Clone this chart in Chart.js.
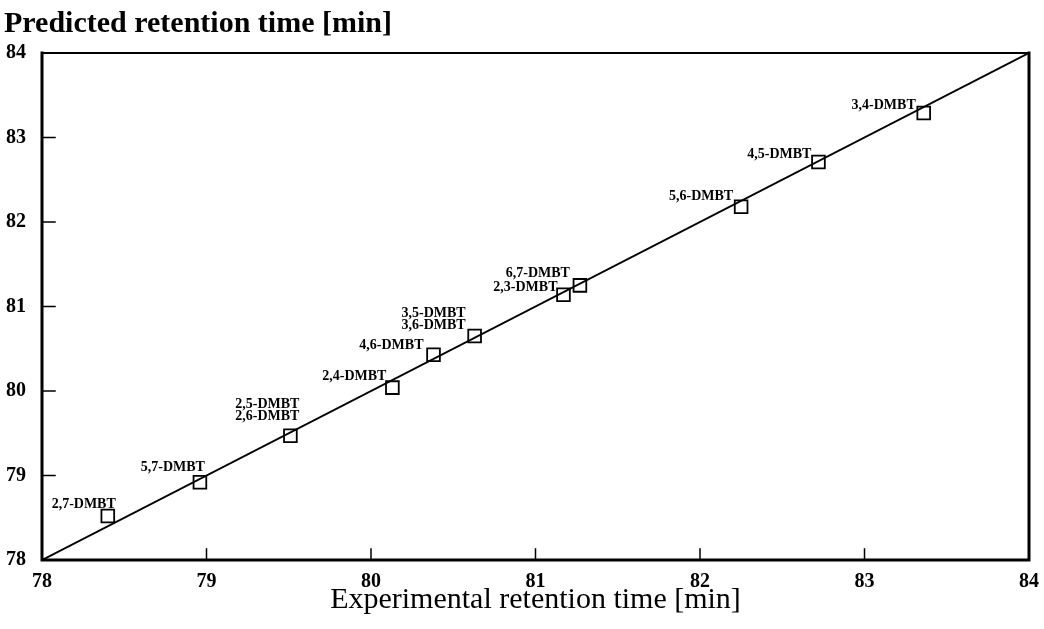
<!DOCTYPE html>
<html>
<head>
<meta charset="utf-8">
<script src="https://cdn.jsdelivr.net/npm/chart.js@4"></script>
<style>
  html, body { margin: 0; padding: 0; background: #fff; }
</style>
</head>
<body>
<canvas id="retentionChart" width="1044" height="629"></canvas>
<script>
// DMBT isomers: experimental vs predicted retention time [min]
const isomerLabels = [
    ['2,7-DMBT'], ['5,7-DMBT'], ['2,5-DMBT', '2,6-DMBT'], ['2,4-DMBT'],
    ['4,6-DMBT'], ['3,5-DMBT', '3,6-DMBT'], ['2,3-DMBT'], ['6,7-DMBT'],
    ['5,6-DMBT'], ['4,5-DMBT'], ['3,4-DMBT']
];
const experimental = [78.40, 78.96, 79.51, 80.13, 80.38, 80.63, 81.17, 81.27, 82.25, 82.72, 83.36];
const predicted    = [78.52, 78.92, 79.47, 80.04, 80.43, 80.65, 81.14, 81.25, 82.18, 82.71, 83.29];

// y = x reference line
const parityLine = [78, 84];
const axisTicks = [78, 79, 80, 81, 82, 83, 84];

// label nudges in px: right edge dx, last line dy (relative to square)
const labelNudge = [
    [8, -12], [5, -15], [9, -19], [-6, -11], [-10, -9], [-9, -11],
    [-6, -7], [-10, -12], [-8, -10], [-7, -8], [-8, -8]
];

const serif = '"Liberation Serif", "Times New Roman", serif';

// draws the frame and the inward tick marks
const framePlugin = {
    id: 'frame',
    afterDraw(chart) {
        const { ctx, chartArea: a, scales: { x, y } } = chart;
        ctx.save();
        ctx.strokeStyle = '#000';
        ctx.lineCap = 'square';
        ctx.lineWidth = 3;
        ctx.beginPath();
        ctx.moveTo(a.left, a.top);
        ctx.lineTo(a.left, a.bottom);
        ctx.lineTo(a.right, a.bottom);
        ctx.lineTo(a.right, a.top);
        ctx.stroke();
        ctx.lineWidth = 2;
        ctx.beginPath();
        ctx.moveTo(a.left, a.top);
        ctx.lineTo(a.right, a.top);
        ctx.stroke();

        ctx.lineWidth = 1.5;
        ctx.beginPath();
        axisTicks.slice(1, -1).forEach(v => {
            const px = x.getPixelForValue(v);
            ctx.moveTo(px, a.bottom);
            ctx.lineTo(px, a.bottom - 11);
            const py = y.getPixelForValue(v);
            ctx.moveTo(a.left, py);
            ctx.lineTo(a.left + 13, py);
        });
        ctx.stroke();
        ctx.restore();
    }
};

const pointLabelPlugin = {
    id: 'pointLabels',
    afterDatasetsDraw(chart) {
        const { ctx, scales: { x, y } } = chart;
        ctx.save();
        ctx.font = 'bold 14px ' + serif;
        ctx.fillStyle = '#000';
        ctx.textAlign = 'right';
        ctx.textBaseline = 'middle';
        isomerLabels.forEach((lines, i) => {
            const px = x.getPixelForValue(experimental[i]);
            const py = y.getPixelForValue(predicted[i]);
            const [dx, dy] = labelNudge[i];
            lines.forEach((t, j) => {
                ctx.fillText(t, px + dx, py + dy - (lines.length - 1 - j) * 12);
            });
        });
        ctx.restore();
    }
};

const ctx = document.getElementById('retentionChart').getContext('2d');
new Chart(ctx, {
    type: 'scatter',
    data: {
        datasets: [{
            label: 'Isomers',
            data: experimental.map((v, i) => ({ x: v, y: predicted[i] })),
            pointStyle: 'rect',
            pointRadius: 9,
            pointBorderWidth: 1.8,
            borderColor: '#000',
            backgroundColor: 'rgba(255,255,255,0)',
            order: 0
        }, {
            type: 'line',
            label: 'y = x',
            data: parityLine.map(v => ({ x: v, y: v })),
            borderColor: '#000',
            borderWidth: 2,
            pointRadius: 0,
            fill: false,
            order: 1
        }]
    },
    options: {
        responsive: false,
        animation: false,
        layout: { padding: { left: 4, right: 15, top: 2, bottom: 4 } },
        plugins: {
            legend: { display: false },
            tooltip: { enabled: false },
            title: {
                display: true,
                text: 'Predicted retention time [min]',
                align: 'start',
                color: '#000',
                font: { family: serif, size: 30, weight: 'bold' },
                padding: { top: 4, bottom: 11 }
            }
        },
        scales: {
            x: {
                type: 'linear',
                min: 78,
                max: 84,
                afterBuildTicks: s => { s.ticks = axisTicks.map(v => ({ value: v })); },
                afterFit: s => { s.height = 65; },
                grid: { display: false },
                border: { display: false },
                ticks: {
                    color: '#000',
                    padding: 2,
                    font: { family: serif, size: 20, weight: 'bold' }
                },
                title: {
                    display: true,
                    text: 'Experimental retention time [min]',
                    color: '#000',
                    font: { family: serif, size: 30 },
                    padding: { top: 0, bottom: 7 }
                }
            },
            y: {
                type: 'linear',
                min: 78,
                max: 84,
                afterBuildTicks: s => { s.ticks = axisTicks.map(v => ({ value: v })); },
                afterFit: s => { s.width = 38; },
                grid: { display: false },
                border: { display: false },
                ticks: {
                    color: '#000',
                    padding: 8,
                    font: { family: serif, size: 20, weight: 'bold' }
                }
            }
        }
    },
    plugins: [framePlugin, pointLabelPlugin]
});
</script>
</body>
</html>
